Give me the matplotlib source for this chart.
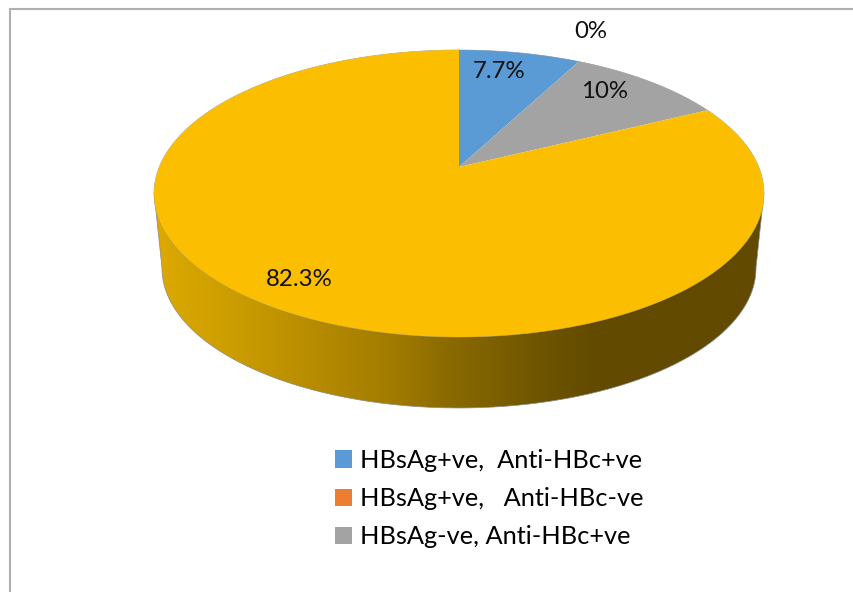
import numpy as np
import matplotlib
matplotlib.use("Agg")
import matplotlib.pyplot as plt
from matplotlib.path import Path
from matplotlib.patches import PathPatch
from matplotlib.transforms import Transform
from matplotlib.colors import LinearSegmentedColormap

plt.rcParams['font.family'] = ['Lato', 'DejaVu Sans']

categories = ["HBsAg+ve,  Anti-HBc+ve", "HBsAg+ve,   Anti-HBc-ve", "HBsAg-ve, Anti-HBc+ve", "HBsAg-ve, Anti-HBc-ve"]
values = [7.7, 0, 10, 82.3]
top_colors = ["#5B9BD5", "#ED7D31", "#A3A3A3", "#FBBE00"]
value_labels = ["7.7%", "0%", "10%", "82.3%"]
label_xy = [(499, 71), (591, 32), (605, 92), (299, 280)]
legend_shown = 3

K = 0.1847

class Persp(Transform):
    input_dims = output_dims = 2
    def __init__(self, cx, cy, rx, ry, k):
        super().__init__()
        self.p = (cx, cy, rx, ry, k)
    def transform_non_affine(self, xy):
        cx, cy, rx, ry, k = self.p
        xy = np.asarray(xy, float)
        d = 1 + k * xy[:, 1]
        return np.column_stack([cx + rx * xy[:, 0] / d, cy - ry * xy[:, 1] / d])
    def transform_path_non_affine(self, path):
        pts = []
        for curve, code in path.iter_bezier():
            if code == Path.MOVETO:
                pts.append(curve.control_points)
            else:
                pts.append(curve(np.linspace(0, 1, 30)))
        return Path(self.transform_non_affine(np.vstack(pts)))

fig = plt.figure(figsize=(8.54, 5.92), dpi=100)
ax = fig.add_axes([0, 0, 1, 1])
wedges, _ = ax.pie(values, colors=top_colors, startangle=90, counterclock=False,
                   radius=1, center=(0, 0), wedgeprops=dict(linewidth=0))
ax.set_aspect('auto')
ax.axis('off')

top = Persp(459, 167, 299.7, 138.6, K)
bot = Persp(459, 242.4, 291.9, 135.0, K)
for w in wedges:
    w.set_transform(top + ax.transData)
    w.set_zorder(3)

t = np.linspace(0, 2 * np.pi, 721)
unit = np.column_stack([np.cos(t), np.sin(t)])
tp = top.transform_non_affine(unit)
bp = bot.transform_non_affine(unit)

il, ir = np.argmin(tp[:, 0]), np.argmax(tp[:, 0])
jl, jr = np.argmin(bp[:, 0]), np.argmax(bp[:, 0])
lower = bp[bp[:, 1] >= bp[jl, 1] - 0.5]
lower = lower[np.argsort(lower[:, 0])]
side = np.vstack([tp[il], lower, tp[ir]])
side_patch = PathPatch(Path(side), fc='none', ec='none', transform=ax.transData)
ax.add_patch(side_patch)
cmap = LinearSegmentedColormap.from_list("side", [(0, "#DDA900"), (0.12, "#CC9E00"), (0.24, "#BA8E00"),
                                                  (0.40, "#A07A00"), (0.48, "#8A6A00"), (0.65, "#6C5300"),
                                                  (0.72, "#624A00"), (1, "#624A00")])
im = ax.imshow(np.linspace(0, 1, 512)[None, :], extent=(155, 764, 420, 180), cmap=cmap, aspect='auto', zorder=1)
im.set_clip_path(side_patch)
ax.set_xlim(0, 854)
ax.set_ylim(592, 0)
ax.plot(side[:, 0], side[:, 1], color='#8a8a8a', lw=0.5, zorder=2)
ax.plot(tp[:, 0], tp[:, 1], color='#9a9a8a', lw=0.5, zorder=2.5)

for (x, y), s in zip(label_xy, value_labels):
    ax.text(x, y, s, ha='center', va='center', fontsize=17.3, color='#111111', zorder=5)

ax.legend(wedges[:legend_shown], categories[:legend_shown], loc='upper left',
          bbox_to_anchor=(335 / 854, 1 - 449 / 592), frameon=False, fontsize=18.3,
          handlelength=0.67, handleheight=0.67, handletextpad=0.3, labelspacing=0.6,
          borderpad=0, borderaxespad=0)

ax.plot([10, 10, 854], [592, 9, 9], color='#AFAFAF', lw=1.5, zorder=0, solid_joinstyle='miter')

fig.savefig("out.png", dpi=100)
